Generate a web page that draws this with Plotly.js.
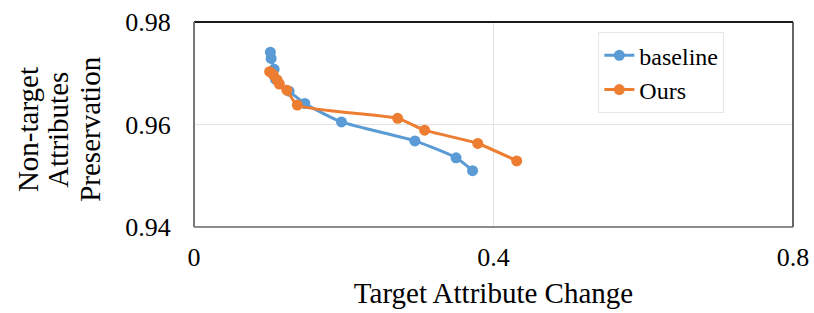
<!DOCTYPE html>
<html>
<head>
<meta charset="utf-8">
<script src="https://cdn.plot.ly/plotly-3.0.1.min.js"></script>
<style>html,body{margin:0;padding:0;background:#fff;}#chart{width:814px;height:313px;}</style>
</head>
<body>
<div id="chart"></div>
<script>
const baselineX = [0.102, 0.103, 0.107, 0.109, 0.127, 0.148, 0.197, 0.295, 0.350, 0.372];
const baselineY = [0.9741, 0.9729, 0.9708, 0.9688, 0.9665, 0.9641, 0.9605, 0.9568, 0.9535, 0.9510];
const oursX = [0.101, 0.106, 0.111, 0.114, 0.124, 0.138, 0.272, 0.308, 0.379, 0.431];
const oursY = [0.9703, 0.9697, 0.9687, 0.9679, 0.9667, 0.9638, 0.9612, 0.9589, 0.9563, 0.9529];
const seriesNames = ["baseline", "Ours"];
const xTicks = [0, 0.4, 0.8];
const xTickText = ["0", "0.4", "0.8"];
const yTicks = [0.94, 0.96, 0.98];
const yTickText = ["0.94", "0.96", "0.98"];

const FONT = "Liberation Serif";
const traces = [
  {x: baselineX, y: baselineY, name: seriesNames[0], type: 'scatter', mode: 'lines+markers',
   line: {color: '#5B9BD5', width: 3, shape: 'spline', smoothing: 0.6},
   marker: {color: '#5B9BD5', size: 11}},
  {x: oursX, y: oursY, name: seriesNames[1], type: 'scatter', mode: 'lines+markers',
   line: {color: '#ED7D31', width: 3, shape: 'spline', smoothing: 0.6},
   marker: {color: '#ED7D31', size: 11}}
];
const layout = {
  width: 814, height: 313,
  margin: {l: 194, r: 21, t: 22, b: 86},
  paper_bgcolor: '#fff', plot_bgcolor: '#fff',
  font: {family: FONT, color: '#000'},
  showlegend: true,
  legend: {x: 0.675, y: 0.95, xanchor: 'left', yanchor: 'top',
    bordercolor: '#e6e6e6', borderwidth: 1, bgcolor: '#fff',
    font: {family: FONT, size: 24, color: '#000'}, itemwidth: 30, tracegroupgap: 0},
  xaxis: {range: [0, 0.8], tickvals: xTicks, ticktext: xTickText, showgrid: true,
    gridcolor: '#e3e3e3', gridwidth: 1, zeroline: false, showline: false, ticks: '',
    tickfont: {family: FONT, size: 26, color: '#000'}, ticklabelstandoff: 12,
    title: {text: 'Target Attribute Change', font: {family: FONT, size: 29, color: '#000'}, standoff: 11}},
  yaxis: {range: [0.94, 0.98], tickvals: yTicks, ticktext: yTickText, showgrid: true,
    gridcolor: '#e3e3e3', gridwidth: 1, zeroline: false, showline: false,
    ticks: 'outside', ticklen: 4, tickcolor: 'rgba(0,0,0,0)',
    tickfont: {family: FONT, size: 26, color: '#000'}, ticklabelstandoff: 13},
  shapes: [
    {type: 'line', xref: 'paper', yref: 'paper', x0: 0, x1: 1, y0: 1, y1: 1, line: {color: '#1a1a1a', width: 2}},
    {type: 'line', xref: 'paper', yref: 'paper', x0: 1, x1: 1, y0: 0, y1: 1, line: {color: '#333', width: 1.5}},
    {type: 'line', xref: 'paper', yref: 'paper', x0: 0, x1: 1, y0: 0, y1: 0, line: {color: '#666', width: 1.5}},
    {type: 'line', xref: 'paper', yref: 'paper', x0: 0, x1: 0, y0: 0, y1: 1, line: {color: '#777', width: 2}}
  ],
  annotations: [
    {text: 'Non-target', xref: 'paper', yref: 'paper', x: -0.278, y: 0.475, textangle: -90, showarrow: false, xanchor: 'center', yanchor: 'middle', font: {family: FONT, size: 29, color: '#000'}},
    {text: 'Attributes', xref: 'paper', yref: 'paper', x: -0.227, y: 0.475, textangle: -90, showarrow: false, xanchor: 'center', yanchor: 'middle', font: {family: FONT, size: 29, color: '#000'}},
    {text: 'Preservation', xref: 'paper', yref: 'paper', x: -0.175, y: 0.475, textangle: -90, showarrow: false, xanchor: 'center', yanchor: 'middle', font: {family: FONT, size: 29, color: '#000'}}
  ]
};
Plotly.newPlot('chart', traces, layout, {displayModeBar: false});
</script>
</body>
</html>
